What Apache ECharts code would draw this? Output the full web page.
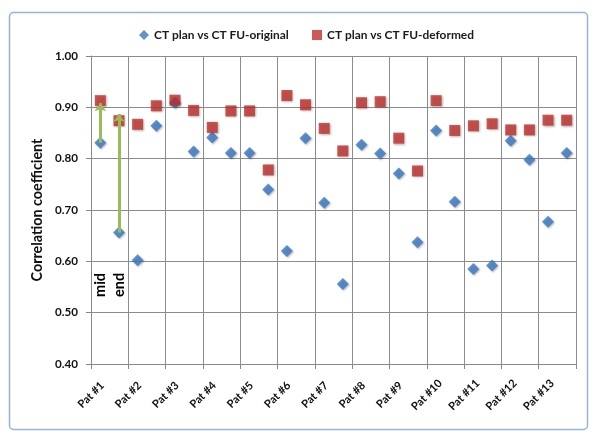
<!DOCTYPE html>
<html><head><meta charset="utf-8">
<script src="https://cdn.jsdelivr.net/npm/echarts@6/dist/echarts.min.js"></script>
<style>html,body{margin:0;padding:0;background:#fff}#c{width:600px;height:442px}</style>
</head><body><div id="c"></div>
<script>
const patients = ['Pat #1','Pat #2','Pat #3','Pat #4','Pat #5','Pat #6','Pat #7','Pat #8','Pat #9','Pat #10','Pat #11','Pat #12','Pat #13'];
const originalMid = [0.831,0.602,0.909,0.841,0.811,0.620,0.714,0.827,0.771,0.855,0.585,0.835,0.677];
const originalEnd = [0.656,0.864,0.814,0.811,0.740,0.840,0.556,0.810,0.637,0.716,0.592,0.798,0.811];
const deformedMid = [0.913,0.867,0.914,0.861,0.893,0.923,0.859,0.909,0.840,0.913,0.864,0.856,0.875];
const deformedEnd = [0.874,0.903,0.894,0.893,0.778,0.905,0.815,0.911,0.776,0.855,0.868,0.856,0.875];
const yTicks = [0.40,0.50,0.60,0.70,0.80,0.90,1.00];
const seriesNames = ['CT plan vs CT FU-original','CT plan vs CT FU-deformed'];
// annotation arrows (Pat #1 mid / end) : tip values
const arrowTips = [0.908, 0.887];
const phaseLabels = ['mid','end'];
const phaseLabelY = 0.554;

function pts(mid, end){
  const out=[];
  patients.forEach((p,i)=>{ out.push([i+0.25, mid[i]]); out.push([i+0.75, end[i]]); });
  return out;
}
const FONT = 'Lato';
const cv = document.createElement('canvas').getContext('2d');
function fitSize(text, target){
  cv.font = 'bold 20px ' + FONT;
  return +(20 * target / cv.measureText(text).width).toFixed(2);
}
const legendSize = fitSize(seriesNames[0], 135);
const titleSize = fitSize('Correlation coefficient', 143);
const yLabSize = fitSize('1.00', 23);
const xLabSize = fitSize('Pat #1', 32);
const phaseSize = fitSize('mid', 24);

const chart = echarts.init(document.getElementById('c'), null, {renderer:'canvas'});
const shadow = {shadowBlur:2, shadowColor:'rgba(0,0,0,0.35)', shadowOffsetX:1, shadowOffsetY:1};
const legendText = {fontFamily:FONT, fontWeight:'bold', fontSize:legendSize, color:'#1a1a1a'};
chart.setOption({
  animation:false,
  backgroundColor:'#fff',
  textStyle:{fontFamily:FONT},
  graphic:[{type:'rect', shape:{x:9.5,y:12.5,width:578,height:417,r:4}, style:{fill:'none', stroke:'#95b3dc', lineWidth:1.5}, silent:true}],
  legend:[
    {top:24, left:134, itemWidth:10, itemHeight:10, itemGap:4,
     data:[{name:seriesNames[0], icon:'diamond'}], textStyle:legendText},
    {top:24, left:307, itemWidth:10, itemHeight:10, itemGap:4,
     data:[{name:seriesNames[1], icon:'rect'}], textStyle:legendText}
  ],
  grid:{left:91, right:24, top:56, bottom:78},
  xAxis:{
    type:'value', min:0, max:patients.length, interval:1,
    axisLine:{show:true, lineStyle:{color:'#888'}},
    axisTick:{show:true, length:5, lineStyle:{color:'#888'}},
    splitLine:{show:true, lineStyle:{color:'#8c8c8c', width:1}},
    axisLabel:{rotate:45, margin:31, align:'center', verticalAlign:'middle',
      fontFamily:FONT, fontWeight:'bold', fontSize:xLabSize, color:'#111',
      formatter:v=> (v<patients.length ? patients[v] : '')}
  },
  yAxis:{
    type:'value', min:yTicks[0], max:yTicks[yTicks.length-1], interval:0.1,
    name:'Correlation coefficient', nameLocation:'middle', nameGap:45,
    nameTextStyle:{fontFamily:FONT, fontWeight:'bold', fontSize:titleSize, color:'#111'},
    axisLine:{show:true, lineStyle:{color:'#888'}},
    axisTick:{show:true, length:5, lineStyle:{color:'#888'}},
    splitLine:{show:true, lineStyle:{color:'#8c8c8c', width:1}},
    axisLabel:{margin:13, fontFamily:FONT, fontWeight:'bold', fontSize:yLabSize, color:'#111', formatter:v=>v.toFixed(2)}
  },
  series:[
    {name:seriesNames[0], type:'scatter', symbol:'diamond', symbolSize:[12,12],
     itemStyle:Object.assign({color:'#3b78c6'}, shadow), data:pts(originalMid, originalEnd), z:2},
    {name:seriesNames[1], type:'scatter', symbol:'rect', symbolSize:[11,11],
     itemStyle:Object.assign({color:'#c0302c'}, shadow), data:pts(deformedMid, deformedEnd), z:3,
     markLine:{silent:true, symbol:['none','arrow'], symbolSize:[9,8], label:{show:false},
       lineStyle:{color:'#9bbb59', width:3, type:'solid'},
       data:[
         [{coord:[0.25, originalMid[0]]},{coord:[0.25, arrowTips[0]]}],
         [{coord:[0.75, originalEnd[0]]},{coord:[0.75, arrowTips[1]]}]
       ]},
     markPoint:{silent:true, symbol:'circle', symbolSize:0,
       label:{show:true, rotate:90, fontFamily:FONT, fontWeight:'bold', fontSize:phaseSize, color:'#000', formatter:p=>p.name},
       data:phaseLabels.map((n,i)=>({name:n, coord:[0.25+0.5*i, phaseLabelY]}))}
    }
  ]
});
</script></body></html>
